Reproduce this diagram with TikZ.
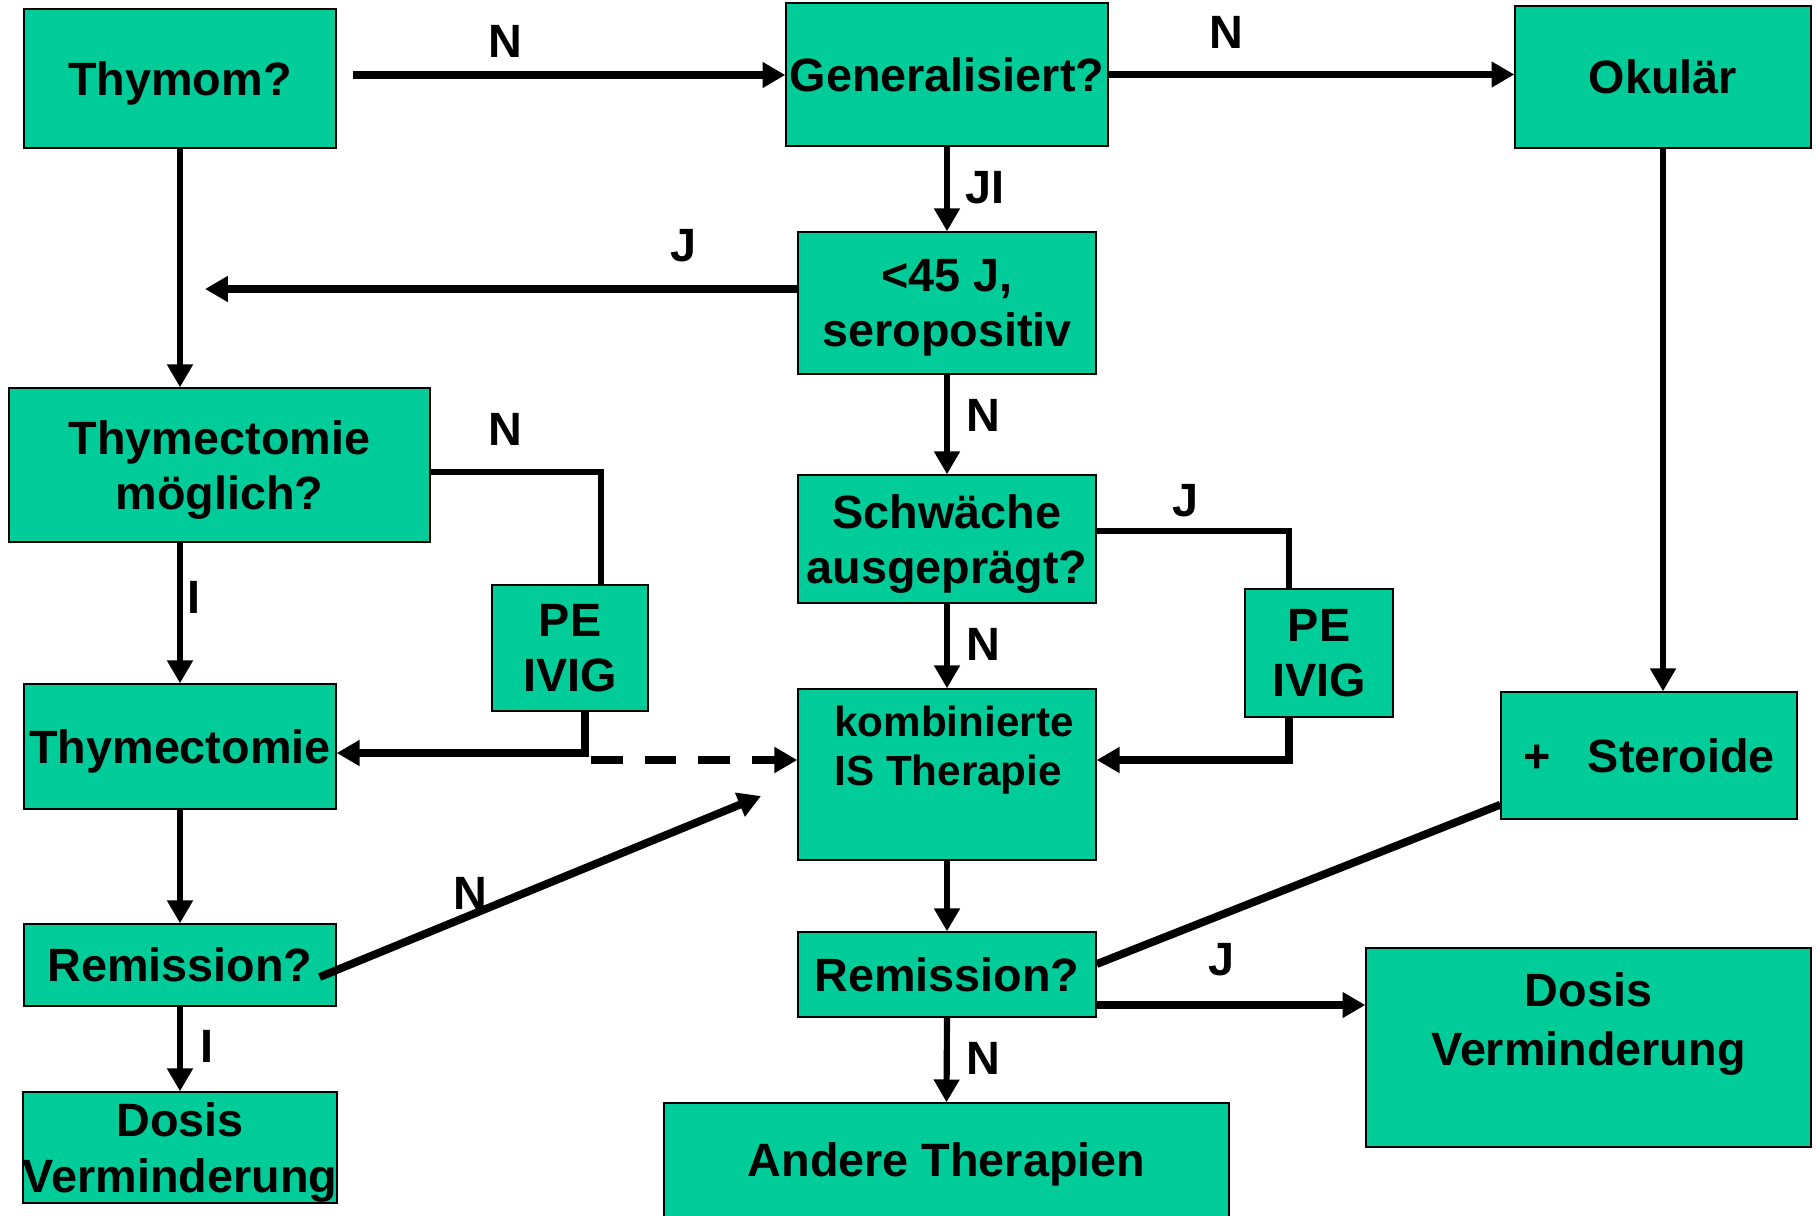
\documentclass[tikz,border=0pt]{standalone}
\usepackage{fontspec}
\setsansfont{Liberation Sans}
\usetikzlibrary{arrows.meta}
\definecolor{boxgreen}{RGB}{0,204,153}
\newcommand{\bigfont}{\sffamily\bfseries\fontsize{26.6}{31.5}\selectfont}
\newcommand{\smallfont}{\sffamily\bfseries\fontsize{24}{27.6}\selectfont}
\tikzset{
  box/.style={draw=black, line width=0.8pt, fill=boxgreen, inner sep=0pt, align=center, text depth=0pt, font=\bigfont},
  lbl/.style={font=\bigfont, inner sep=0pt},
  conn/.style={line width=3.5pt},
  heavy/.style={line width=4.5pt},
  arr/.style={conn, -{Triangle[length=13pt,width=14pt]}},
}

\begin{document}
\begin{tikzpicture}[x=0.02cm, y=-0.02cm]
			%%%%% START %%%%%
			\useasboundingbox (0,0) rectangle (1817,1215);

			% boxes, upper part
			\node[box, minimum width=6.24cm, minimum height=2.78cm] (thymom) at (180,78.5) {Thymom?};
			\node[box, minimum width=6.44cm, minimum height=2.86cm] (general) at (947,74.5) {Generalisiert?};
			\node[box, minimum width=5.92cm, minimum height=2.84cm] (okular) at (1663,77) {Okulär};
			\node[box, minimum width=5.96cm, minimum height=2.84cm] (alter) at (947,303) {<45 J,\\seropositiv};
			\node[box, minimum width=8.42cm, minimum height=3.08cm] (tmoeglich) at (219.5,465) {Thymectomie\\möglich?};
			\node[box, minimum width=5.96cm, minimum height=2.56cm] (schwaeche) at (947,539) {Schwäche\\ausgeprägt?};

			% boxes, middle part
			\node[box, minimum width=3.12cm, minimum height=2.52cm] (peL) at (570,648) {PE\\IVIG};
			\node[box, minimum width=2.96cm, minimum height=2.56cm] (peR) at (1319,653) {PE\\IVIG};
			\node[box, minimum width=6.24cm, minimum height=2.5cm] (tektomie) at (180,746.5) {Thymectomie};
			\node[box, minimum width=5.96cm, minimum height=3.42cm] (kombi) at (947,774.5) {};
			\node[lbl, font=\smallfont, align=left] (kombitext) at (954,750) {kombinierte\\IS Therapie};
			\node[box, minimum width=5.92cm, minimum height=2.54cm] (steroide) at (1649,755.5) {+\hspace{0.8em}Steroide};

			% boxes, lower part
			\node[box, minimum width=6.24cm, minimum height=1.64cm] (remL) at (180,965) {Remission?};
			\node[box, minimum width=5.96cm, minimum height=1.7cm] (remM) at (947,974.5) {Remission?};
			\node[box, minimum width=8.9cm, minimum height=3.98cm] (dosisR) at (1588.5,1047.5) {};
			\node[lbl, align=center] (dosisRtext) at (1588.5,1024) {Dosis\\[2pt]Verminderung};
			\node[box, minimum width=11.3cm, minimum height=2.28cm] (andere) at (946.5,1160) {Andere Therapien};
			\node[box, minimum width=6.24cm, minimum height=2.22cm] (dosisL) at (180,1147.5) {Dosis\\Verminderung};

			% free ends and knees
			\coordinate (thstart) at (353,75);
			\coordinate (jend) at (205,289);
			\coordinate (nknee) at (601,472);
			\coordinate (peLknee) at (585,753);
			\coordinate (dashstart) at (591,760);
			\coordinate (jknee) at (1289,531);
			\coordinate (peRknee) at (1289,760);
			\coordinate (ntip) at (761,796);

			% connectors
			\draw[arr, heavy] (thstart) -- (thstart -| general.west);
			\draw[arr, heavy] (general.east) -- (general.east -| okular.west);
			\draw[arr] (general.south) -- (general.south |- alter.north);
			\draw[arr, heavy] (alter.west |- jend) -- (jend);
			\draw[arr] (thymom.south) -- (thymom.south |- tmoeglich.north);
			\draw[arr] (alter.south) -- (schwaeche.north);

			\draw[conn] (tmoeglich.east |- nknee) -- (nknee) -- (nknee |- peL.north);
			\draw[arr] (tmoeglich.south -| tektomie.north) -- (tektomie.north);
			\draw[arr, heavy] (peL.south -| peLknee) -- (peLknee) -- (peLknee -| tektomie.east);
			\draw[arr, heavy, dash pattern=on 18pt off 12.5pt] (dashstart) -- (dashstart -| kombi.west);

			\draw[conn] (schwaeche.east |- jknee) -- (jknee) -- (jknee |- peR.north);
			\draw[arr, heavy] (peR.south -| peRknee) -- (peRknee) -- (peRknee -| kombi.east);
			\draw[arr] (schwaeche.south) -- (kombi.north);
			\draw[arr] (okular.south) -- (okular.south |- steroide.north);

			\draw[arr] (tektomie.south) -- (remL.north);
			\draw[arr, heavy] ([xshift=-0.34cm, yshift=-0.24cm]remL.east) -- (ntip);
			\draw[arr] (kombi.south) -- (remM.north);
			\draw[heavy] ([yshift=0.21cm]remM.east) -- ([yshift=0.3cm]steroide.south west);
			\draw[arr, heavy] ([yshift=-0.61cm]remM.east) -- ([yshift=-0.61cm]remM.east -| dosisR.west);
			\draw[arr] (remM.south) -- (andere.north);
			\draw[arr] (remL.south) -- (dosisL.north);

			% branch labels
			\node[lbl] (lN1) at (505,41) {N};
			\node[lbl] (lN2) at (1226,32) {N};
			\node[lbl] (lJI) at (985,188) {JI};
			\node[lbl] (lJ1) at (683,246) {J};
			\node[lbl] (lN3) at (983,415) {N};
			\node[lbl] (lN4) at (505,429) {N};
			\node[lbl] (lI1) at (194,597) {I};
			\node[lbl] (lJ2) at (1185,501) {J};
			\node[lbl] (lN5) at (983,644) {N};
			\node[lbl] (lN6) at (470,893) {N};
			\node[lbl] (lJ3) at (1221,960) {J};
			\node[lbl] (lN7) at (983,1058) {N};
			\node[lbl] (lI2) at (207,1046) {I};
			%%%%% END %%%%%
\end{tikzpicture}
\end{document}
